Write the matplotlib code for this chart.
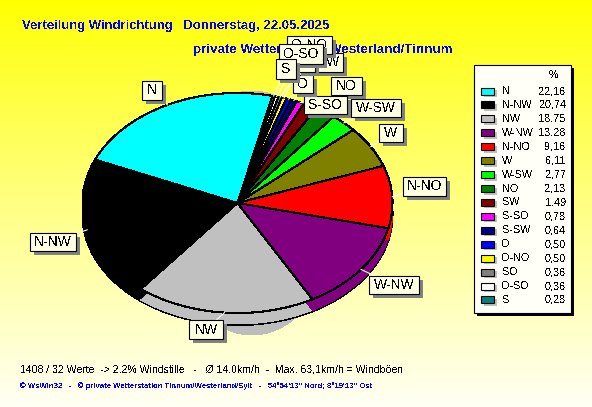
import numpy as np
import matplotlib
matplotlib.use('Agg')
import matplotlib.pyplot as plt
from matplotlib.patches import Rectangle, Ellipse

# Daten aus der Legende
richtungen = ['N', 'N-NW', 'NW', 'W-NW', 'N-NO', 'W', 'W-SW', 'NO', 'SW', 'S-SO',
              'S-SW', 'O', 'O-NO', 'SO', 'O-SO', 'S']
prozent = [22.16, 20.74, 18.75, 13.28, 9.16, 6.11, 2.77, 2.13, 1.49, 0.78,
           0.64, 0.50, 0.50, 0.36, 0.36, 0.28]
prozent_text = ['22,16', '20,74', '18,75', '13,28', '9,16', '6,11', '2,77', '2,13', '1,49',
                '0,78', '0,64', '0,50', '0,50', '0,36', '0,36', '0,28']
farben = ['#00ffff', '#000000', '#c0c0c0', '#800080', '#ff0000', '#808000', '#00ff00', '#008000',
          '#800000', '#ff00ff', '#000080', '#0000ff', '#ffff00', '#808080', '#ffffff', '#008080']

# Label-Boxen in Pixeln: links, oben, rechts, unten
label_boxen = [(142, 81, 162, 100), (30, 233, 76, 251), (189, 320, 223, 339), (369, 276, 419, 294),
               (403, 177, 446, 196), (379, 124, 403, 142), (351, 99, 401, 117), (331, 77, 362, 95),
               (309, 98, 341, 112), (304, 96, 347, 114), (300, 53, 343, 72), (293, 75, 313, 93),
               (287, 36, 332, 54), (297, 55, 315, 72), (279, 44, 323, 64), (276, 59, 296, 79)]

W, H = 592, 407
cx, cy, rx, ry = 237.5, 203, 155, 110
tiefe = 12

plt.rcParams['font.family'] = ['Liberation Sans', 'DejaVu Sans']
plt.rcParams['text.antialiased'] = False

fig = plt.figure(figsize=(W / 100, H / 100), dpi=100)

# Hintergrund: gelb nach hellgelb
bg = fig.add_axes([0, 0, 1, 1])
verlauf = np.ones((H, 1, 3))
verlauf[:, 0, 2] = np.linspace(0, 0.95, H) ** 0.9
bg.imshow(verlauf, aspect='auto', extent=(0, W, H, 0))
bg.set_xlim(0, W)
bg.set_ylim(H, 0)
bg.axis('off')
# Schatten hinter der Torte
bg.add_patch(Ellipse((252, 213), 170, 244, fc='#bcbcbc', ec='none', antialiased=False))
bg.text(193, 50, 'private Wetterstation Westerland/Tinnum', color='#0000ff', fontsize=9.6,
        fontweight='bold', va='center')

# Tortenachse: Radius 1 = Ellipse
ax = fig.add_axes([0, 0, 1, 1])
ax.patch.set_alpha(0)

ax.pie(prozent, colors=farben, startangle=77, center=(0, -tiefe / ry), radius=1, frame=True,
       wedgeprops=dict(edgecolor='black', linewidth=0.8, antialiased=False))
ax.pie(prozent, colors=farben, startangle=77, center=(0, -(tiefe - 1) / ry), radius=1, frame=True,
       wedgeprops=dict(linewidth=0, antialiased=False))
ax.pie(prozent, colors=farben, startangle=77, center=(0, 0), radius=1, frame=True,
       wedgeprops=dict(edgecolor='black', linewidth=0.8, antialiased=False))

ax.set_aspect('auto')
ax.set_xlim(-cx / rx, (W - cx) / rx)
ax.set_ylim((cy - H) / ry, cy / ry)
ax.axis('off')

# Overlay in Pixeln
ov = fig.add_axes([0, 0, 1, 1])
ov.set_xlim(0, W)
ov.set_ylim(H, 0)
ov.axis('off')
ov.patch.set_alpha(0)

# Labels mit Fuehrungslinie
winkel = 77.0
for name, wert, box in zip(richtungen, prozent, label_boxen):
    mitte = np.deg2rad(winkel + wert * 3.6 / 2)
    winkel += wert * 3.6
    x0, y0, x1, y1 = box
    px, py = cx + rx * np.cos(mitte), cy - ry * np.sin(mitte)
    ov.plot([px, (x0 + x1) / 2], [py, (y0 + y1) / 2], color='white', lw=0.8, zorder=2)
for i, (name, box) in enumerate(zip(richtungen, label_boxen)):
    x0, y0, x1, y1 = box
    z = 3 + i * 0.01
    ov.add_patch(Rectangle((x0 + 4, y0 + 4), x1 - x0, y1 - y0, fc='#808080', ec='none', zorder=z))
    ov.add_patch(Rectangle((x0, y0), x1 - x0, y1 - y0, fc='#ffffe1', ec='black', lw=0.8, zorder=z + 0.001))
    ov.text((x0 + x1) / 2, (y0 + y1) / 2, name, ha='center', va='center', fontsize=10,
            color='black', zorder=z + 0.002)

# Legende
ov.add_patch(Rectangle((477, 68), 97, 248, fc='black', ec='none', zorder=5))
ov.add_patch(Rectangle((474, 65), 97, 248, fc='#fffff8', ec='black', lw=0.8, zorder=5.1))
ov.text(553, 75, '%', fontsize=7.8, ha='center', va='center', zorder=6)
for i, (name, wert, farbe) in enumerate(zip(richtungen, prozent_text, farben)):
    y = 91 + i * 13.93
    ov.add_patch(Rectangle((484, y - 1), 13, 7, fc='#c0c0c0', ec='none', zorder=5.5))
    ov.add_patch(Rectangle((481, y - 3.5), 13, 7, fc=farbe, ec='black', lw=0.8, zorder=5.6))
    ov.text(502, y, name, fontsize=7.8, va='center', zorder=6)
    ov.text(566, y, wert, fontsize=7.8, va='center', ha='right', zorder=6)

# Titel und Fusszeilen
ov.text(22, 26, 'Verteilung Windrichtung   Donnerstag, 22.05.2025', color='#0000ff', fontsize=9.45,
        fontweight='bold', va='center')
ov.text(20, 369, '1408 / 32 Werte  -> 2.2% Windstille   -   \u00d8 14,0km/h  -  Max. 63,1km/h = Windb\u00f6en',
        fontsize=7.55, va='center')
ov.text(20, 386, '\u00a9 WsWin32   -   \u00a9 private Wetterstation Tinnum/Westerland/Sylt   -   54\u00b054\'13" Nord; 8\u00b019\'13" Ost',
        fontsize=5.6, color='#0000ff', fontweight='bold', va='center')

fig.savefig('out.png', dpi=100)
